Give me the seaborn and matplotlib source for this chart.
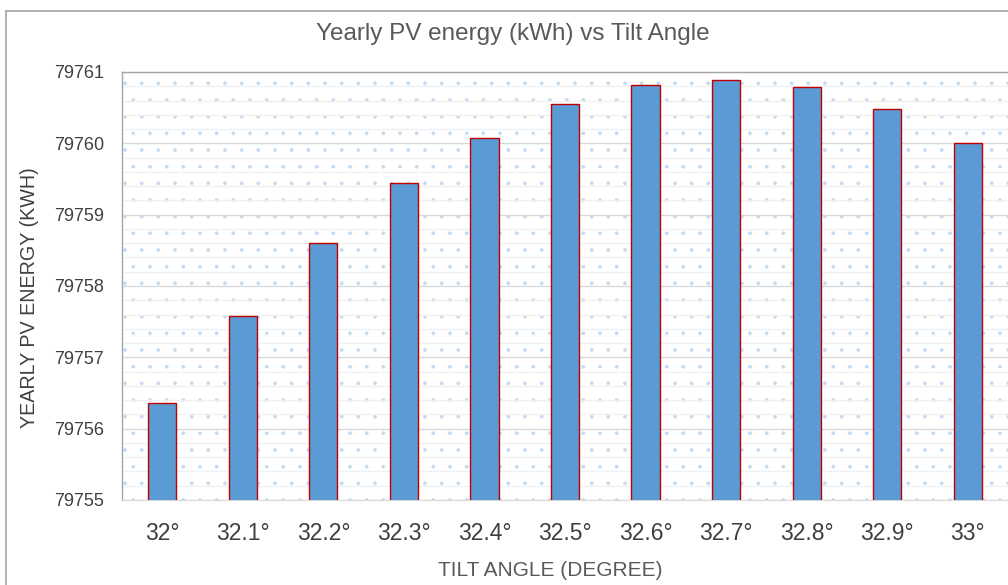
import seaborn as sns
import matplotlib.pyplot as plt
from matplotlib.patches import Rectangle
from matplotlib.lines import Line2D
from matplotlib.ticker import MultipleLocator
import pandas as pd

# data
tilt_labels = ['32°', '32.1°', '32.2°', '32.3°', '32.4°', '32.5°',
               '32.6°', '32.7°', '32.8°', '32.9°', '33°']
energy_kwh = [79756.36, 79757.58, 79758.60, 79759.45, 79760.08, 79760.55,
              79760.82, 79760.89, 79760.79, 79760.48, 79760.00]

df = pd.DataFrame({'Tilt': tilt_labels, 'Energy': energy_kwh})

sns.set_style('white')
plt.rcParams['font.family'] = ['Liberation Sans', 'DejaVu Sans']
plt.rcParams['hatch.linewidth'] = 0.3
plt.rcParams['hatch.color'] = '#C4DBF0'

fig = plt.figure(figsize=(10.08, 5.85), dpi=100)
ax = fig.add_axes([122 / 1008, 1 - 500 / 585, 886 / 1008, 428 / 585])

# dotted background of the plot area
bg = Rectangle((0, 0), 1, 1, transform=ax.transAxes, facecolor='white',
               edgecolor='#C4DBF0', hatch='.', linewidth=0, zorder=0)
ax.add_patch(bg)

sns.barplot(data=df, x='Tilt', y='Energy', ax=ax, width=0.35,
            color='#5B9BD5', edgecolor='#C00000', linewidth=1.0,
            saturation=1, zorder=3)

ax.set_ylim(79755, 79761)
ax.set_xlim(-0.5, len(tilt_labels) - 0.5)
ax.yaxis.set_major_locator(MultipleLocator(1))
ax.yaxis.set_minor_locator(MultipleLocator(0.2))
ax.yaxis.set_major_formatter(plt.FuncFormatter(lambda v, p: f'{int(round(v))}'))
ax.grid(which='major', axis='y', color='#D9D9D9', linewidth=1.0, zorder=1)
ax.grid(which='minor', axis='y', color='#F0F0F0', linewidth=1.0, zorder=1)
ax.set_axisbelow(True)

for side in ['left', 'top']:
    ax.spines[side].set_visible(True)
    ax.spines[side].set_color('#A6A6A6')
    ax.spines[side].set_linewidth(1.0)
ax.spines['bottom'].set_color('#D9D9D9')
ax.spines['right'].set_visible(False)

ax.tick_params(axis='y', labelsize=13, colors='#404040', length=0, pad=13)
ax.tick_params(axis='x', labelsize=16.5, colors='#404040', length=0, pad=16)
ax.tick_params(which='minor', length=0)

ax.set_xlabel('TILT ANGLE (DEGREE)', fontsize=15, color='#595959')
ax.xaxis.set_label_coords((550 - 122) / 886, -61 / 428)
ax.set_ylabel('YEARLY PV ENERGY (KWH)', fontsize=14.2, color='#404040')
ax.yaxis.set_label_coords(-(122 - 39) / 886, (500 - 298) / 428)
fig.text(513 / 1008, 1 - 34 / 585, 'Yearly PV energy (kWh) vs Tilt Angle',
         fontsize=17.5, color='#595959', ha='center', va='center')

# outer chart border (left and top edges visible)
fig.add_artist(Line2D([6 / 1008, 6 / 1008], [0, 1 - 11 / 585],
                      transform=fig.transFigure, color='#A6A6A6', linewidth=1.2))
fig.add_artist(Line2D([6 / 1008, 1], [1 - 11 / 585, 1 - 11 / 585],
                      transform=fig.transFigure, color='#A6A6A6', linewidth=1.2))

fig.savefig('out.png', dpi=100)
